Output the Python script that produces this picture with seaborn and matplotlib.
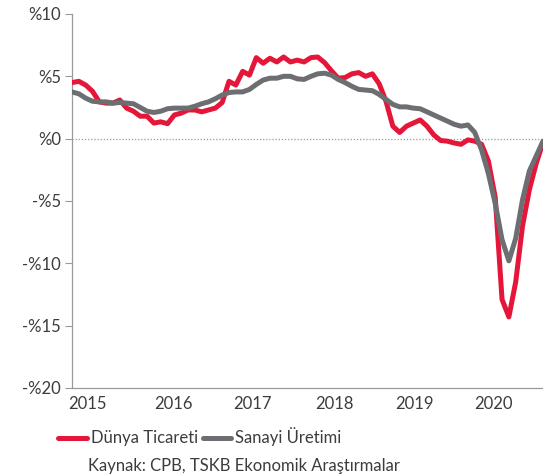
import matplotlib
matplotlib.use("Agg")
import matplotlib.pyplot as plt
import numpy as np
import pandas as pd
import seaborn as sns

sns.set_theme(style="white")
plt.rcParams['font.family'] = ['Lato', 'DejaVu Sans']

# monthly yoy change (%), Jan 2015 onwards
dunya_ticareti = [4.5, 4.6, 4.3, 3.8, 2.95, 2.85, 2.85, 3.1, 2.45, 2.2, 1.8, 1.8,
                  1.25, 1.35, 1.2, 1.9, 2.05, 2.3, 2.3, 2.15, 2.3, 2.45, 2.9, 4.6,
                  4.3, 5.4, 5.1, 6.5, 6.05, 6.45, 6.15, 6.55, 6.15, 6.3, 6.15, 6.5,
                  6.55, 6.1, 5.45, 4.85, 4.9, 5.2, 5.3, 5.0, 5.2, 4.4, 3.0, 1.0,
                  0.5, 1.0, 1.25, 1.5, 1.0, 0.3, -0.15, -0.2, -0.35, -0.45, -0.1, -0.2,
                  -0.45, -1.8, -4.7, -12.9, -14.3, -11.5, -7.0, -4.1, -2.0, -0.3]
sanayi_uretimi = [3.75, 3.6, 3.25, 3.0, 2.95, 2.95, 2.85, 2.9, 2.85, 2.8, 2.5, 2.2,
                  2.1, 2.2, 2.4, 2.45, 2.45, 2.45, 2.6, 2.8, 2.95, 3.2, 3.5, 3.7,
                  3.75, 3.75, 3.95, 4.35, 4.7, 4.85, 4.85, 5.0, 5.0, 4.8, 4.75, 5.0,
                  5.2, 5.25, 5.1, 4.75, 4.5, 4.2, 3.95, 3.9, 3.85, 3.55, 3.15, 2.75,
                  2.55, 2.55, 2.45, 2.4, 2.15, 1.9, 1.65, 1.4, 1.15, 1.0, 1.1, 0.5,
                  -0.9, -2.8, -5.2, -8.1, -9.8, -8.0, -4.9, -2.6, -1.4, -0.2]
series_names = ["Dünya Ticareti", "Sanayi Üretimi"]
year_labels = ["2015", "2016", "2017", "2018", "2019", "2020"]
y_ticks = [10, 5, 0, -5, -10, -15, -20]
y_tick_labels = ["%10", "%5", "%0", "-%5", "-%10", "-%15", "-%20"]

months = np.arange(len(dunya_ticareti))
df = pd.DataFrame({
    "ay": np.concatenate([months, months]),
    "deger": dunya_ticareti + sanayi_uretimi,
    "seri": [series_names[0]] * len(months) + [series_names[1]] * len(months),
})

fig = plt.figure(figsize=(5.43, 4.76), dpi=100)
ax = fig.add_axes([0.1326, 0.1849, 0.8674, 0.7857])

ax.axhline(0, color="#9a9a9a", lw=0.9, ls=(0, (1, 1.5)), zorder=1)
sns.lineplot(data=df, x="ay", y="deger", hue="seri",
             palette=["#e4173a", "#6d6e71"], linewidth=3.6, ax=ax,
             legend=False, zorder=3)

ax.set_xlim(0, len(months) - 1)
ax.set_ylim(-20, 10)
ax.set_yticks(y_ticks)
ax.set_yticklabels(y_tick_labels)
ax.set_xticks([2.3, 14.8, 26.5, 38.4, 50.1, 61.8])
ax.set_xticklabels(year_labels)
ax.set_xlabel("")
ax.set_ylabel("")
ax.tick_params(axis="y", length=5, width=0.8, color="#9a9a9a", pad=3,
               labelsize=12, labelcolor="#3c3c3c", left=True)
ax.tick_params(axis="x", length=0, pad=6, labelsize=12, labelcolor="#3c3c3c")
for s in ["top", "right"]:
    ax.spines[s].set_visible(False)
for s in ["left", "bottom"]:
    ax.spines[s].set_color("#9a9a9a")
    ax.spines[s].set_linewidth(0.9)

handles = [plt.Line2D([], [], color="#e4173a", lw=3.6),
           plt.Line2D([], [], color="#6d6e71", lw=3.6)]
fig.legend(handles, series_names, loc="center left",
           bbox_to_anchor=(0.095, 1 - 437 / 476), ncol=2, frameon=False,
           fontsize=12, handlelength=1.7, handletextpad=0.25,
           columnspacing=0.3, labelcolor="#3c3c3c", borderaxespad=0)
fig.text(88 / 543, 1 - 466 / 476, "Kaynak: CPB, TSKB Ekonomik Araştırmalar",
         fontsize=12, color="#3c3c3c", va="center", ha="left")

fig.savefig("out.png", dpi=100)
